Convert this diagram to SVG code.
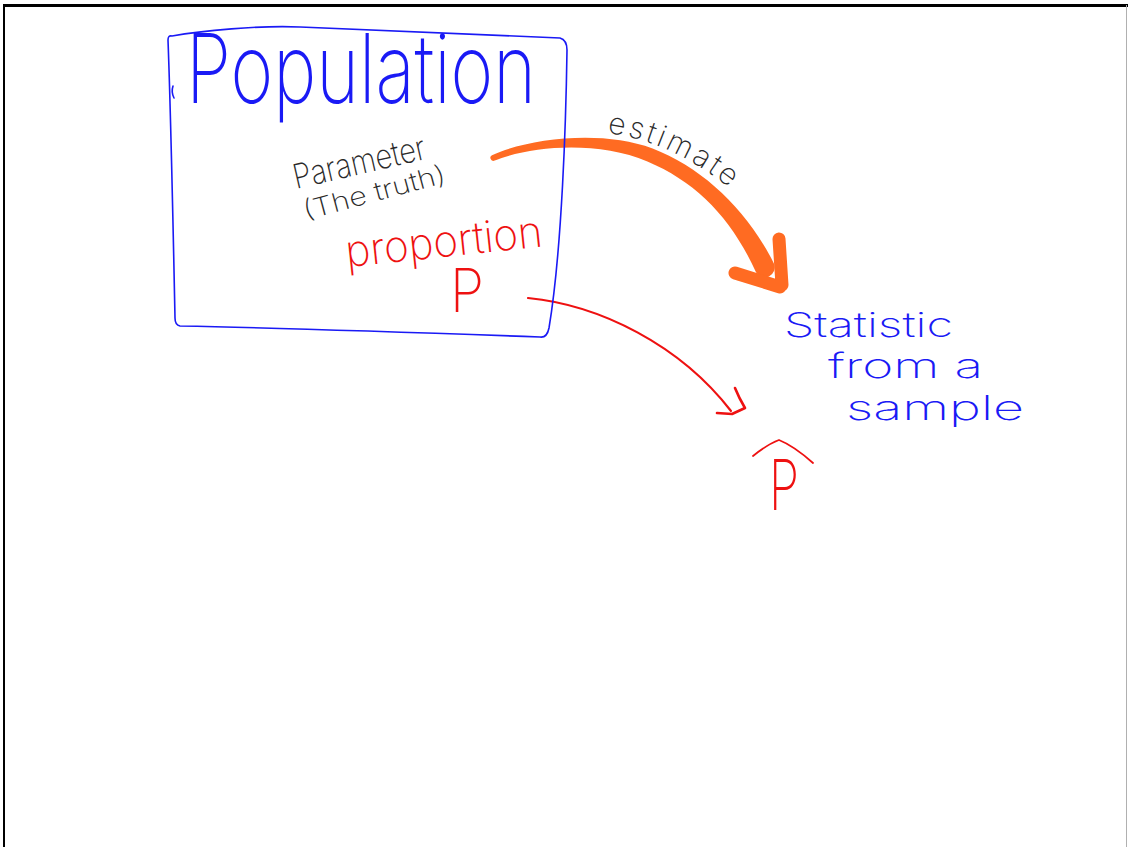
<svg xmlns="http://www.w3.org/2000/svg" width="1128" height="847" viewBox="0 0 1128 847">
<style>
.hand{font-family:"Inter","Open Sans","Liberation Sans",sans-serif;font-weight:200}
.blue{fill:#1a1af5}
.red{fill:#ee1111}
.ink{fill:#2a2a2a}
.bline{fill:none;stroke:#1a1af5;stroke-width:1.6;stroke-linecap:round;stroke-linejoin:round}
.rline{fill:none;stroke:#ee1111;stroke-linecap:round;stroke-linejoin:round}
</style>
<rect x="0" y="0" width="1128" height="847" fill="#ffffff"/>
<g id="frame">
<line x1="3" y1="5.5" x2="1128" y2="5.5" stroke="#000" stroke-width="3"/>
<line x1="4" y1="5" x2="4" y2="847" stroke="#000" stroke-width="2"/>
<line x1="1126.5" y1="5" x2="1126.5" y2="847" stroke="#b0b0b0" stroke-width="1"/>
</g>
<g id="connectors">
<g id="estimate-arrow" fill="#ff6b22">
<path d="M492,155.2 C528.4,138.3 602.2,129.4 652.6,148.5 C703,167.6 748.1,211.1 774,263.7 A10,10 0 0 1 756,272.3 C731.9,218.9 697,182.4 647.4,161.5 C597.8,140.6 531.6,145.7 494,160.8 A3,3 0 0 1 492,155.2 Z"/>
<path d="M735,273 L780,287 M779,239 L782,285" stroke="#ff6b22" stroke-width="13" stroke-linecap="round" fill="none"/>
</g>
<path id="estimate-path" d="M607,133 Q680,142 750,205" fill="none"/>
<text class="hand ink" font-size="30" letter-spacing="3"><textPath href="#estimate-path">estimate</textPath></text>
<g id="proportion-arrow">
<path class="rline" stroke-width="2.2" d="M528,298 C600,305 680,345 731,411"/>
<path class="rline" stroke-width="2.6" d="M717,413 L732,414 L745,408 Q739,398 735,388"/>
</g>
</g>
<g id="population">
<path class="bline" d="M172,36 C200,31 260,25 300,27 C400,31 500,36 560,38 Q567,40 567,50 C566,120 562,250 549,328 Q547,338 540,337 C430,333 290,328 180,326 Q175,325 175,318 C173,220 171,120 168,40 Q168,35 172,36 Z"/>
<path class="bline" d="M173,86 Q171,92 174,98"/>
<text class="hand blue" x="186" y="103" font-size="96" textLength="350" lengthAdjust="spacingAndGlyphs">Population</text>
<text class="hand ink" x="296" y="189" font-size="34" textLength="135" lengthAdjust="spacingAndGlyphs" transform="rotate(-13 296 189)">Parameter</text>
<text class="hand ink" x="306" y="220" font-size="26" textLength="146" lengthAdjust="spacingAndGlyphs" transform="rotate(-15 306 220)">(The truth)</text>
<text class="hand red" x="347" y="267" font-size="44" textLength="198" lengthAdjust="spacingAndGlyphs" transform="rotate(-6 347 267)">proportion</text>
<text class="hand red" x="450" y="312" font-size="60" textLength="34" lengthAdjust="spacingAndGlyphs">P</text>
</g>
<g id="statistic">
<text class="hand blue" x="784" y="337" font-size="34" textLength="169" lengthAdjust="spacingAndGlyphs">Statistic</text>
<text class="hand blue" x="828" y="378" font-size="34" textLength="155" lengthAdjust="spacingAndGlyphs">from a</text>
<text class="hand blue" x="846" y="420" font-size="34" textLength="178" lengthAdjust="spacingAndGlyphs">sample</text>
</g>
<g id="phat">
<path class="rline" stroke-width="1.8" d="M753,456 Q768,444 779,440 Q794,446 813,463"/>
<text class="hand red" x="769" y="510" font-size="70" textLength="30" lengthAdjust="spacingAndGlyphs">P</text>
</g>
</svg>
